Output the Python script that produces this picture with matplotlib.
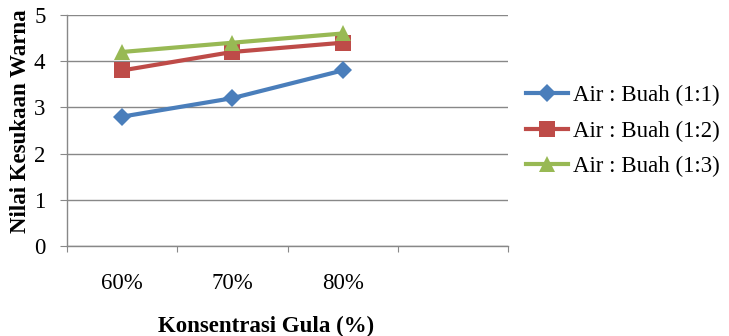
import numpy as np
import matplotlib
matplotlib.use("Agg")
import matplotlib.pyplot as plt

plt.rcParams['font.family'] = ['Liberation Serif', 'DejaVu Serif']

categories = ["60%", "70%", "80%", ""]
series_names = ["Air : Buah (1:1)", "Air : Buah (1:2)", "Air : Buah (1:3)"]
values_11 = [2.8, 3.2, 3.8]
values_12 = [3.8, 4.2, 4.4]
values_13 = [4.2, 4.4, 4.6]
y_ticks = [0, 1, 2, 3, 4, 5]

colors = ["#4A7EBB", "#BE4B48", "#98B954"]
markers = ["D", "s", "^"]
msizes = [9, 11, 12]
fs = 16.5

fig = plt.figure(figsize=(7.29, 3.36), dpi=100)
ax = fig.add_axes([67 / 729, 90 / 336, 441 / 729, 231 / 336])

# category axis: points sit in the middle of each slot
x = np.arange(len(values_11)) + 0.5
for vals, name, c, m, ms in zip([values_11, values_12, values_13], series_names,
                                colors, markers, msizes):
    ax.plot(x, vals, color=c, lw=3.0, marker=m, markersize=ms, label=name,
            markeredgewidth=0, zorder=3)

ax.set_xlim(0, len(categories))
ax.set_ylim(0, 5)
ax.set_yticks(y_ticks)
ax.set_yticklabels([str(t) for t in y_ticks], fontsize=fs)
ax.set_xticks(np.arange(len(categories) + 1))
ax.set_xticklabels([])
ax.set_xticks(np.arange(len(categories)) + 0.5, minor=True)
ax.set_xticklabels(categories, minor=True, fontsize=fs)

grid_c = "#888888"
ax.grid(axis='y', color=grid_c, lw=1.0, zorder=0)
for s in ['top', 'right']:
    ax.spines[s].set_visible(False)
for s in ['left', 'bottom']:
    ax.spines[s].set_color(grid_c)
    ax.spines[s].set_linewidth(1.0)
ax.tick_params(axis='y', which='major', length=5, color=grid_c, pad=10.5)
ax.tick_params(axis='x', which='major', length=4, color=grid_c)
ax.tick_params(axis='x', which='minor', length=0, pad=19.5)

fig.text(266 / 729, 4 / 336, "Konsentrasi Gula (%)", fontsize=fs, fontweight='bold',
         ha='center', va='baseline')
fig.text(31 / 729, (336 - 233) / 336, "Nilai Kesukaan Warna", fontsize=16.5,
         fontweight='bold', rotation=90, ha='right', va='bottom')

fig.legend(loc='center left', bbox_to_anchor=(526 / 729, (336 - 131) / 336),
           frameon=False, fontsize=fs, handlelength=1.85, handletextpad=0.2,
           labelspacing=0.62, borderpad=0, borderaxespad=0)

fig.savefig("out.png", dpi=100)
